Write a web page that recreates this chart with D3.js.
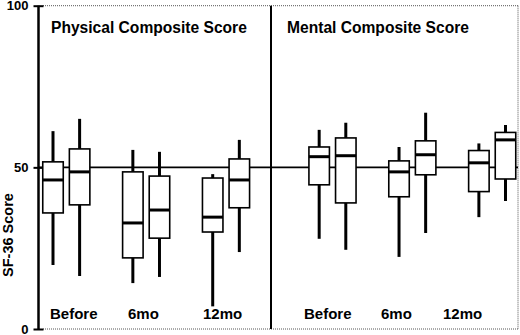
<!DOCTYPE html>
<html>
<head>
<meta charset="utf-8">
<script src="https://cdn.jsdelivr.net/npm/d3@7"></script>
<style>
  html, body { margin: 0; padding: 0; background: #fff; }
  svg { display: block; }
  text { font-family: "Liberation Sans", Arial, Helvetica, sans-serif; font-weight: bold; fill: #000; }
</style>
</head>
<body>
<svg id="chart" width="520" height="335"></svg>
<script>
// ---- data ----
const panels = ["Physical Composite Score", "Mental Composite Score"];
const timepoints = ["Before", "6mo", "12mo"];
const yTicks = [0, 50, 100];
const yLabel = "SF-36 Score";
const referenceValue = 50;
// order: Physical (Before a,b; 6mo a,b; 12mo a,b), Mental (same)
const whiskerHigh = [61.2, 65.0, 55.4, 54.8, 47.9, 58.5, 61.6, 63.8, 56.3, 66.9, 57.4, 63.1];
const q3          = [51.7, 55.7, 48.6, 47.3, 46.7, 52.6, 56.3, 59.1, 52.0, 58.2, 55.2, 60.8];
const medians     = [46.1, 48.6, 32.8, 36.8, 34.6, 46.1, 53.3, 53.6, 48.6, 53.9, 51.4, 58.5];
const q1          = [35.9, 38.4, 22.0, 28.1, 30.0, 37.5, 44.6, 39.0, 40.9, 47.7, 42.5, 46.4];
const whiskerLow  = [19.8, 16.4, 14.2, 16.1,  7.0, 23.8, 27.9, 24.5, 22.3, 29.7, 34.6, 39.6];

// ---- layout ----
const svg = d3.select("#chart");
const plotLeft = 38.5, plotRight = 518, dividerX = 271;
const y = d3.scaleLinear().domain([0, 100]).range([329, 5.7]);
const x = d3.scaleLinear().domain([0, 17]).range([53, 505.5]);
const boxW = 20.5;
const titleX = [51, 287];
const labelX = [[50, 128, 203], [304, 381, 443]];

const boxes = [];
panels.forEach((p, pi) => {
  timepoints.forEach((t, ti) => {
    [0, 1].forEach(bi => {
      const i = pi * 6 + ti * 2 + bi;
      boxes.push({
        slot: pi * 10 + ti * 3 + bi,
        hi: whiskerHigh[i], q3: q3[i], med: medians[i], q1: q1[i], lo: whiskerLow[i]
      });
    });
  });
});

// dotted frame
const dotted = svg.append("g")
  .attr("stroke", "#555").attr("stroke-width", 1).attr("stroke-dasharray", "1,1").attr("fill", "none");
dotted.append("line").attr("x1", 43).attr("x2", plotRight).attr("y1", y(100)).attr("y2", y(100));
dotted.append("line").attr("x1", 43).attr("x2", plotRight).attr("y1", y(0)).attr("y2", y(0));
dotted.append("line").attr("x1", plotRight).attr("x2", plotRight).attr("y1", y(100)).attr("y2", y(0));

// reference line at 50
svg.append("line")
  .attr("x1", plotLeft).attr("x2", plotRight)
  .attr("y1", y(referenceValue)).attr("y2", y(referenceValue))
  .attr("stroke", "#000").attr("stroke-width", 1.6);

// divider
svg.append("line")
  .attr("x1", dividerX).attr("x2", dividerX)
  .attr("y1", y(100)).attr("y2", y(0))
  .attr("stroke", "#000").attr("stroke-width", 2);

// y axis
const axis = d3.axisLeft(y).tickValues(yTicks).tickSize(10).tickPadding(5);
const ag = svg.append("g").attr("transform", "translate(43.5,0)").call(axis);
ag.select(".domain").remove();
ag.selectAll(".tick line").attr("stroke", "#000").attr("stroke-width", 2);
ag.selectAll(".tick text")
  .style("font-family", '"Liberation Sans", Arial, sans-serif')
  .style("font-weight", "bold").style("font-size", "13px").attr("fill", "#000");
svg.append("line")
  .attr("x1", plotLeft).attr("x2", plotLeft)
  .attr("y1", y(100)).attr("y2", y(0))
  .attr("stroke", "#000").attr("stroke-width", 2.5);

// y label
svg.append("text")
  .attr("transform", "translate(13,235) rotate(-90)")
  .attr("text-anchor", "middle")
  .style("font-size", "14.5px")
  .text(yLabel);

// boxes
const bg = svg.append("g").selectAll("g").data(boxes).join("g");
bg.append("line")
  .attr("x1", d => x(d.slot)).attr("x2", d => x(d.slot))
  .attr("y1", d => y(d.q3)).attr("y2", d => y(d.hi))
  .attr("stroke", "#000").attr("stroke-width", 3);
bg.append("line")
  .attr("x1", d => x(d.slot)).attr("x2", d => x(d.slot))
  .attr("y1", d => y(d.q1)).attr("y2", d => y(d.lo))
  .attr("stroke", "#000").attr("stroke-width", 3);
bg.append("rect")
  .attr("x", d => x(d.slot) - boxW / 2).attr("width", boxW)
  .attr("y", d => y(d.q3)).attr("height", d => y(d.q1) - y(d.q3))
  .attr("fill", "#fff").attr("stroke", "#000").attr("stroke-width", 1.6);
bg.append("line")
  .attr("x1", d => x(d.slot) - boxW / 2).attr("x2", d => x(d.slot) + boxW / 2)
  .attr("y1", d => y(d.med)).attr("y2", d => y(d.med))
  .attr("stroke", "#000").attr("stroke-width", 3);

// titles
panels.forEach((p, pi) => {
  svg.append("text").attr("x", titleX[pi]).attr("y", 33)
    .style("font-size", "15.6px").text(p);
  timepoints.forEach((t, ti) => {
    svg.append("text").attr("x", labelX[pi][ti]).attr("y", 318.5)
      .style("font-size", "15px").text(t);
  });
});
</script>
</body>
</html>
